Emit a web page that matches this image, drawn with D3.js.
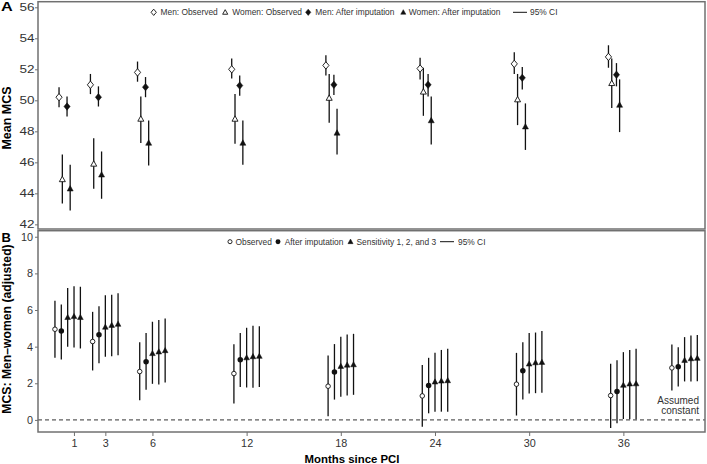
<!DOCTYPE html>
<html><head><meta charset="utf-8">
<script src="https://cdn.jsdelivr.net/npm/d3@7"></script>
<style>body{margin:0;background:#fff} svg{display:block;font-family:"Liberation Sans",Arial,sans-serif}</style>
</head><body><svg id="c" width="707" height="464"></svg>
<script>
// ---------- Panel A data: mean MCS ----------
const months = [1, 3, 6, 12, 18, 24, 30, 36];
const menObs    = [50.2, 51.0, 51.8, 52.0, 52.25, 52.05, 52.35, 52.8];
const menObsLo  = [49.55, 50.4, 51.2, 51.4, 51.6, 51.35, 51.7, 52.1];
const menObsHi  = [50.85, 51.7, 52.5, 52.7, 52.9, 52.75, 53.1, 53.55];
const menImp    = [49.6, 50.2, 50.85, 50.95, 51.0, 51.0, 51.45, 51.65];
const menImpLo  = [48.95, 49.6, 50.2, 50.3, 50.35, 50.25, 50.7, 50.9];
const menImpHi  = [50.25, 50.9, 51.5, 51.6, 51.65, 51.7, 52.15, 52.4];
const womObs    = [44.9, 45.9, 48.8, 48.8, 50.15, 50.55, 50.05, 51.1];
const womObsLo  = [43.35, 44.3, 47.25, 47.2, 48.55, 49.0, 48.4, 49.5];
const womObsHi  = [46.5, 47.55, 50.25, 50.4, 51.7, 52.1, 51.7, 52.7];
const womImp    = [44.3, 45.2, 47.25, 47.25, 47.9, 48.7, 48.3, 49.7];
const womImpLo  = [42.9, 43.65, 45.8, 45.85, 46.5, 47.15, 46.8, 47.95];
const womImpHi  = [45.85, 46.7, 48.7, 48.7, 49.45, 50.25, 49.8, 51.35];
const aTicks = [42, 44, 46, 48, 50, 52, 54, 56];

// ---------- Panel B data: men - women difference ----------
const bPos   = [0.6, 3, 6, 12, 18, 24, 30, 36, 39.9]; // last = assumed constant
const bObs   = [4.95, 4.28, 2.64, 2.53, 1.84, 1.31, 1.95, 1.33, 2.84];
const bObsLo = [3.4, 2.7, 1.07, 0.89, 0.2, -0.38, 0.24, -0.44, 1.6];
const bObsHi = [6.5, 5.9, 4.24, 4.13, 3.51, 3.0, 3.66, 3.06, 4.12];
const bImp   = [4.85, 4.65, 3.17, 3.28, 2.62, 1.88, 2.68, 1.55, 2.9];
const bImpLo = [3.3, 3.1, 1.64, 1.79, 1.11, 0.36, 1.11, -0.18, 1.82];
const bImpHi = [6.3, 6.2, 4.74, 4.74, 4.14, 3.39, 4.24, 3.26, 3.97];
const s1   = [5.6, 5.07, 3.63, 3.4, 2.93, 2.08, 3.06, 1.9, 3.26];
const s1Lo = [4.0, 3.45, 1.97, 1.77, 1.26, 0.44, 1.44, 0.05, 2.1];
const s1Hi = [7.2, 6.8, 5.36, 5.03, 4.54, 3.66, 4.74, 3.7, 4.52];
const s2   = [5.65, 5.17, 3.72, 3.46, 3.0, 2.13, 3.13, 1.97, 3.35];
const s2Lo = [3.95, 3.48, 1.93, 1.75, 1.33, 0.45, 1.46, 0.03, 2.1];
const s2Hi = [7.3, 6.83, 5.45, 5.14, 4.66, 3.82, 4.77, 3.81, 4.61];
const s3   = [5.6, 5.23, 3.79, 3.48, 3.02, 2.15, 3.15, 1.98, 3.37];
const s3Lo = [3.9, 3.53, 2.04, 1.79, 1.37, 0.45, 1.48, 0.03, 2.11];
const s3Hi = [7.27, 6.92, 5.54, 5.12, 4.7, 3.88, 4.86, 3.88, 4.64];
const bTicks = [0, 2, 4, 6, 8, 10];

const legendA = ["Men: Observed", "Women: Observed", "Men: After imputation", "Women: After imputation", "95% CI"];
const legendB = ["Observed", "After imputation", "Sensitivity 1, 2, and 3", "95% CI"];

// ---------- layout ----------
const svg = d3.select("#c");
const L = 38, R = 705;
const x  = d3.scaleLinear().domain([-1.29, 41.2]).range([L, R]);
const yA = d3.scaleLinear().domain([41.7, 56.36]).range([229, 1.7]);
const yB = d3.scaleLinear().domain([-0.66, 10.33]).range([432, 230.7]);
const TXT = "#333", FRAME = "#707070", INK = "#111";

function shape(type, cx, cy, s) {
  if (type === "diamond") return `M${cx},${cy-3.7*s}L${cx+3.1*s},${cy}L${cx},${cy+3.7*s}L${cx-3.1*s},${cy}Z`;
  return `M${cx},${cy-3.1*s}L${cx+3*s},${cy+2.3*s}L${cx-3*s},${cy+2.3*s}Z`;
}
function marker(g, type, filled, cx, cy, s = 1) {
  if (type === "circle") {
    if (filled) g.append("circle").attr("cx", cx).attr("cy", cy).attr("r", 2.9 * s).attr("fill", INK);
    else g.append("circle").attr("cx", cx).attr("cy", cy).attr("r", 2.4 * s)
      .attr("fill", "#fff").attr("stroke", INK).attr("stroke-width", 0.9);
  } else {
    g.append("path").attr("d", shape(type, cx, cy, s))
      .attr("fill", filled ? INK : "#fff").attr("stroke", INK).attr("stroke-width", filled ? 0.5 : 0.9);
  }
}

// ---------- Panel A ----------
const gA = svg.append("g");
const seriesA = [
  {v: menObs, lo: menObsLo, hi: menObsHi, off: -0.95, type: "diamond", filled: false},
  {v: womObs, lo: womObsLo, hi: womObsHi, off: -0.74, type: "triangle", filled: false},
  {v: menImp, lo: menImpLo, hi: menImpHi, off: -0.44, type: "diamond", filled: true},
  {v: womImp, lo: womImpLo, hi: womImpHi, off: -0.24, type: "triangle", filled: true}
];
seriesA.forEach(s => {
  months.forEach((m, i) => {
    const px = x(m + s.off);
    gA.append("line").attr("x1", px).attr("x2", px).attr("y1", yA(s.lo[i])).attr("y2", yA(s.hi[i]))
      .attr("stroke", INK).attr("stroke-width", 1.3);
  });
});
seriesA.forEach(s => {
  months.forEach((m, i) => marker(gA, s.type, s.filled, x(m + s.off), yA(s.v[i])));
});
gA.append("rect").attr("x", L).attr("y", 1.7).attr("width", R - L).attr("height", 229 - 1.7)
  .attr("fill", "none").attr("stroke", FRAME).attr("stroke-width", 1.5);
const axA = gA.append("g").attr("transform", `translate(${L},0)`)
  .call(d3.axisLeft(yA).tickValues(aTicks).tickSize(3).tickPadding(2));
axA.select(".domain").remove();
axA.selectAll("line").attr("stroke", FRAME);
axA.selectAll("text").attr("font-size", 10.8).attr("fill", TXT)
  .attr("x", -3.5 / 1.25).attr("transform", "scale(1.25,1)");
gA.append("text").attr("x", 1 / 1.25).attr("y", 11).attr("transform", "scale(1.25,1)")
  .attr("font-size", 13).attr("font-weight", "bold").text("A");
gA.append("text").attr("transform", "translate(10.5,118) rotate(-90)").attr("text-anchor", "middle")
  .attr("font-size", 12.5).attr("font-weight", "bold").text("Mean MCS");

// legend A
const lgA = gA.append("g").attr("font-size", 8.4).attr("fill", TXT);
const lgAy = 12.3;
const lgAitems = [
  {mx: 153.7, tx: 160.5, type: "diamond", filled: false},
  {mx: 225.2, tx: 232.3, type: "triangle", filled: false},
  {mx: 308.2, tx: 315.3, type: "diamond", filled: true},
  {mx: 403.3, tx: 408.8, type: "triangle", filled: true}
];
lgAitems.forEach((it, i) => {
  marker(lgA, it.type, it.filled, it.mx, lgAy, 0.85);
  lgA.append("text").attr("x", it.tx).attr("y", lgAy).attr("dy", "0.35em").text(legendA[i]);
});
lgA.append("line").attr("x1", 513).attr("x2", 527).attr("y1", lgAy).attr("y2", lgAy).attr("stroke", INK).attr("stroke-width", 1);
lgA.append("text").attr("x", 530).attr("y", lgAy).attr("dy", "0.35em").text(legendA[4]);

// ---------- Panel B ----------
const gB = svg.append("g");
const step = 0.405;
const seriesB = [
  {v: bObs, lo: bObsLo, hi: bObsHi, k: -2, type: "circle", filled: false},
  {v: bImp, lo: bImpLo, hi: bImpHi, k: -1, type: "circle", filled: true},
  {v: s1, lo: s1Lo, hi: s1Hi, k: 0, type: "triangle", filled: true},
  {v: s2, lo: s2Lo, hi: s2Hi, k: 1, type: "triangle", filled: true},
  {v: s3, lo: s3Lo, hi: s3Hi, k: 2, type: "triangle", filled: true}
];
gB.append("line").attr("x1", L).attr("x2", R).attr("y1", yB(0)).attr("y2", yB(0))
  .attr("stroke", "#333").attr("stroke-width", 1).attr("stroke-dasharray", "4,3");
seriesB.forEach(s => {
  bPos.forEach((p, i) => {
    const px = x(p + s.k * step);
    gB.append("line").attr("x1", px).attr("x2", px).attr("y1", yB(s.lo[i])).attr("y2", yB(s.hi[i]))
      .attr("stroke", INK).attr("stroke-width", 1.3);
  });
});
seriesB.forEach(s => {
  bPos.forEach((p, i) => marker(gB, s.type, s.filled, x(p + s.k * step), yB(s.v[i]), 0.95));
});
gB.append("rect").attr("x", L).attr("y", 230.7).attr("width", R - L).attr("height", 432 - 230.7)
  .attr("fill", "none").attr("stroke", FRAME).attr("stroke-width", 1.5);
const axB = gB.append("g").attr("transform", `translate(${L},0)`)
  .call(d3.axisLeft(yB).tickValues(bTicks).tickSize(3).tickPadding(2));
axB.select(".domain").remove();
axB.selectAll("line").attr("stroke", FRAME);
axB.selectAll("text").attr("font-size", 10.8).attr("fill", TXT);
const axX = gB.append("g").attr("transform", "translate(0,432)")
  .call(d3.axisBottom(x).tickValues(months).tickFormat(d3.format("d")).tickSize(4).tickPadding(3.5));
axX.select(".domain").remove();
axX.selectAll("line").attr("stroke", FRAME);
axX.selectAll("text").attr("font-size", 10.8).attr("fill", TXT);

gB.append("text").attr("x", 1.5).attr("y", 241.7).attr("font-size", 13).attr("font-weight", "bold").text("B");
gB.append("text").attr("transform", "translate(10.5,329) rotate(-90)").attr("text-anchor", "middle")
  .attr("font-size", 12.2).attr("font-weight", "bold").text("MCS: Men\u2013women (adjusted)");
gB.append("text").attr("x", 352).attr("y", 462.5).attr("text-anchor", "middle")
  .attr("font-size", 11.4).attr("font-weight", "bold").text("Months since PCI");

const ac = gB.append("text").attr("text-anchor", "end").attr("font-size", 10).attr("fill", TXT);
ac.append("tspan").attr("x", 699).attr("y", 403.5).text("Assumed");
ac.append("tspan").attr("x", 699).attr("y", 413.5).text("constant");

// legend B
const lgB = gB.append("g").attr("font-size", 8.4).attr("fill", TXT);
const lgBy = 241.7;
const lgBitems = [
  {mx: 230, tx: 235.5, type: "circle", filled: false},
  {mx: 278, tx: 284.7, type: "circle", filled: true},
  {mx: 350.5, tx: 356.5, type: "triangle", filled: true}
];
lgBitems.forEach((it, i) => {
  marker(lgB, it.type, it.filled, it.mx, lgBy, 0.85);
  lgB.append("text").attr("x", it.tx).attr("y", lgBy).attr("dy", "0.35em").text(legendB[i]);
});
lgB.append("line").attr("x1", 440).attr("x2", 454).attr("y1", lgBy).attr("y2", lgBy).attr("stroke", INK).attr("stroke-width", 1);
lgB.append("text").attr("x", 458).attr("y", lgBy).attr("dy", "0.35em").text(legendB[3]);
</script>
</body></html>
